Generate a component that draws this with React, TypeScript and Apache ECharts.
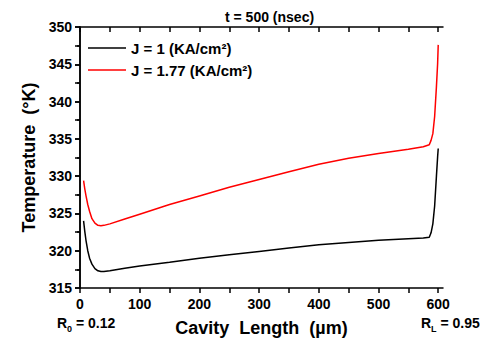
import React, { useEffect, useRef } from "react";
import * as echarts from "echarts";

const xValues = [6, 8, 10, 13, 16, 20, 25, 30, 35, 40, 50, 75, 100, 150, 200, 250, 300, 350, 400, 450, 500, 550, 575, 585, 588, 591, 594, 597, 599, 600];
const tempJ1 = [324.0, 322.6, 321.4, 320.0, 319.0, 318.2, 317.6, 317.3, 317.2, 317.2, 317.3, 317.65, 317.95, 318.45, 318.98, 319.45, 319.9, 320.35, 320.8, 321.1, 321.4, 321.6, 321.7, 321.8, 322.4, 323.6, 326.0, 330.0, 332.6, 333.7];
const tempJ177 = [329.4, 328.3, 327.4, 326.2, 325.3, 324.3, 323.7, 323.4, 323.35, 323.4, 323.6, 324.25, 324.9, 326.2, 327.35, 328.5, 329.55, 330.6, 331.6, 332.4, 333.05, 333.6, 333.95, 334.2, 334.8, 335.7, 338.0, 342.0, 345.1, 347.6];
const seriesNames = ["J = 1 (KA/cm²)", "J = 1.77 (KA/cm²)"];
const seriesColors = ["#000000", "#ff0000"];
const xMajorTicks = [0, 100, 200, 300, 400, 500, 600];
const xAllTicks = [0, 50, 100, 150, 200, 250, 300, 350, 400, 450, 500, 550, 600];
const chartTitle = "t = 500 (nsec)";
const xAxisTitle = "Cavity  Length  (µm)";
const yAxisTitle = "Temperature  (°K)";
const leftNote = "{m|R}{s|0}{m| = 0.12}";
const rightNote = "{m|R}{s|L}{m| = 0.95}";

const FONT = "'Liberation Sans', Arial, sans-serif";

export default function App() {
  const ref = useRef<HTMLDivElement>(null);
  useEffect(() => {
    if (!ref.current) return;
    const chart = echarts.init(ref.current, null, { renderer: "svg" });
    const axisLine = { show: true, lineStyle: { color: "#000", width: 1.5 } };
    const labelStyle = { color: "#000", fontSize: 14, fontWeight: "bold" as const, fontFamily: FONT };
    const noteRich = {
      m: { fontSize: 14, fontWeight: "bold", fontFamily: FONT, color: "#000", lineHeight: 20 },
      s: { fontSize: 9, fontWeight: "bold", fontFamily: FONT, color: "#000", verticalAlign: "bottom", lineHeight: 10 },
    };
    chart.setOption({
      animation: false,
      backgroundColor: "#fff",
      title: {
        text: chartTitle,
        left: 220,
        top: 5,
        textStyle: { fontSize: 14, fontWeight: "bold", fontFamily: FONT, color: "#000" },
      },
      legend: {
        orient: "vertical",
        left: 88,
        top: 39,
        padding: 0,
        icon: "rect",
        itemWidth: 38,
        itemHeight: 1.5,
        itemGap: 4,
        data: seriesNames,
        textStyle: { fontSize: 15, fontWeight: "bold", fontFamily: FONT, color: "#000", lineHeight: 18 },
      },
      grid: { left: 80, right: 46, top: 27, bottom: 54, containLabel: false },
      xAxis: [
        {
          type: "value",
          position: "bottom",
          min: 0,
          max: 608,
          name: xAxisTitle,
          nameLocation: "middle",
          nameGap: 31,
          nameTextStyle: { fontSize: 18, fontWeight: "bold", fontFamily: FONT, color: "#000" },
          axisLine,
          axisTick: { show: true, inside: false, length: 5, customValues: xAllTicks, lineStyle: { color: "#000", width: 1.5 } },
          axisLabel: { ...labelStyle, margin: 9, customValues: xMajorTicks },
          splitLine: { show: false },
        },
        {
          type: "value",
          position: "top",
          min: 0,
          max: 608,
          axisLine,
          axisTick: { show: true, inside: true, length: 5, customValues: xAllTicks, lineStyle: { color: "#000", width: 1.5 } },
          axisLabel: { show: false },
          splitLine: { show: false },
        },
      ],
      yAxis: [
        {
          type: "value",
          position: "left",
          min: 315,
          max: 350,
          interval: 5,
          name: yAxisTitle,
          nameLocation: "middle",
          nameGap: 42,
          nameTextStyle: { fontSize: 18, fontWeight: "bold", fontFamily: FONT, color: "#000" },
          axisLine,
          axisTick: { show: true, inside: false, length: 5, lineStyle: { color: "#000", width: 1.5 } },
          minorTick: { show: true, splitNumber: 2, length: 3, lineStyle: { color: "#000", width: 1.5 } },
          axisLabel: { ...labelStyle, margin: 8 },
          splitLine: { show: false },
          minorSplitLine: { show: false },
        },
        {
          type: "value",
          position: "right",
          min: 315,
          max: 350,
          interval: 2.5,
          axisLine,
          axisTick: { show: true, inside: true, length: 5, lineStyle: { color: "#000", width: 1.5 } },
          axisLabel: { show: false },
          splitLine: { show: false },
        },
      ],
      series: [
        {
          name: seriesNames[0],
          type: "line",
          xAxisIndex: 0,
          yAxisIndex: 0,
          data: xValues.map((x, i) => [x, tempJ1[i]]),
          symbol: "none",
          smooth: false,
          lineStyle: { color: seriesColors[0], width: 1.5 },
          itemStyle: { color: seriesColors[0] },
        },
        {
          name: seriesNames[1],
          type: "line",
          xAxisIndex: 0,
          yAxisIndex: 0,
          data: xValues.map((x, i) => [x, tempJ177[i]]),
          symbol: "none",
          smooth: false,
          lineStyle: { color: seriesColors[1], width: 1.5 },
          itemStyle: { color: seriesColors[1] },
        },
      ],
      graphic: [
        { type: "text", left: 57, top: 316, style: { text: leftNote, rich: noteRich } },
        { type: "text", left: 421, top: 316, style: { text: rightNote, rich: noteRich } },
      ],
    });
    return () => chart.dispose();
  }, []);
  return <div ref={ref} style={{ position: "fixed", left: 0, top: 0, width: 489, height: 342 }} />;
}
